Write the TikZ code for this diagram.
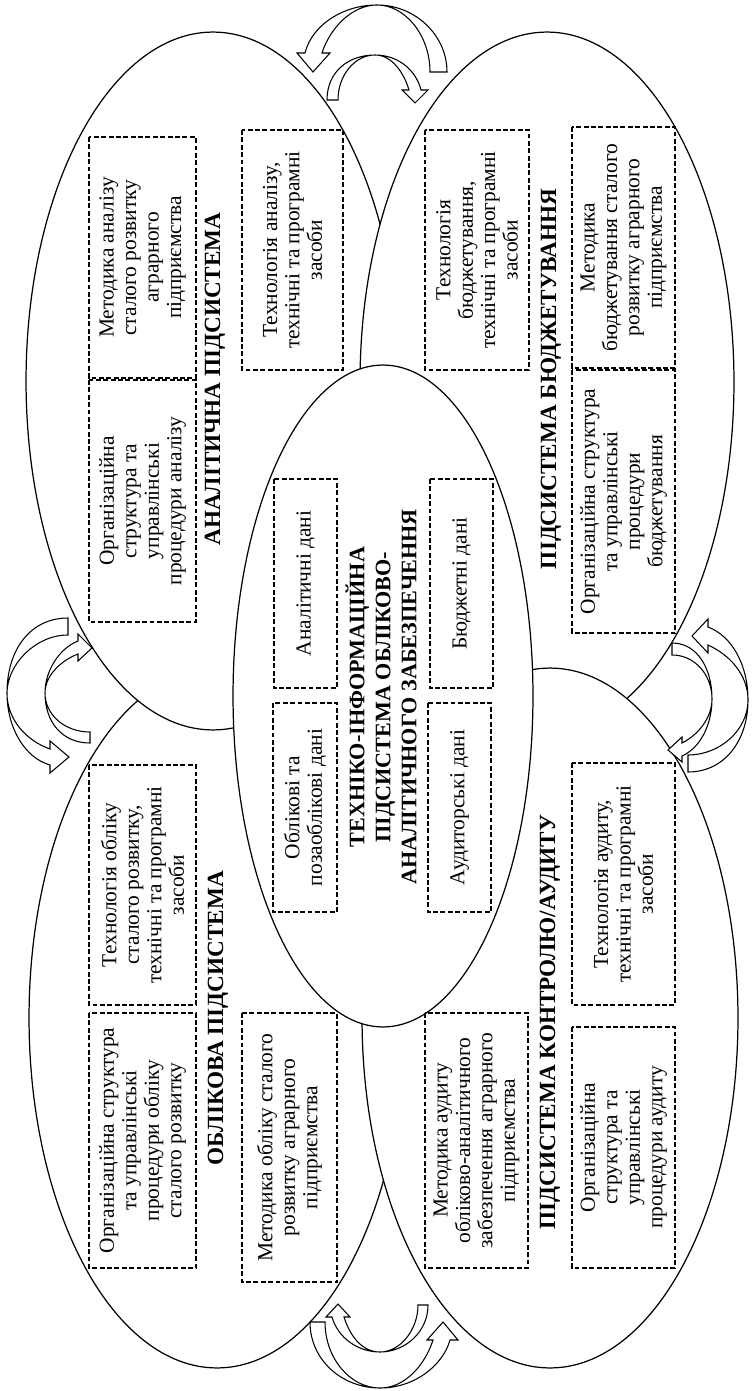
\documentclass[tikz,border=0pt]{standalone}
\usepackage{fontspec}
\setmainfont{Liberation Serif}
\usetikzlibrary{shapes.geometric}
\tikzset{
  ell/.style={draw, ellipse, line width=0.7pt, fill=white, inner sep=0pt},
  dbox/.style={draw, dash pattern=on 2.8pt off 1.4pt, line width=0.8pt, rotate=90, inner sep=0pt, align=center, font=\fontsize{12.2}{12.8}\selectfont},
  ttl/.style={rotate=90, align=center, inner sep=0pt, font=\fontsize{13.2}{14.8}\selectfont\bfseries},
  cttl/.style={rotate=90, align=center, inner sep=0pt, font=\fontsize{12.6}{14.8}\selectfont\bfseries},
  carrow/.style={draw, line width=0.6pt, fill=white, line join=miter},
}
\newcommand{\dbx}[6]{%
  \pgfmathsetmacro{\bw}{(#5-#4)*0.02}%
  \pgfmathsetmacro{\bh}{(#3-#2)*0.02}%
  \node[dbox, minimum width=\bw cm, minimum height=\bh cm] (#1) at ({(#2+#3)/2},{(#4+#5)/2}) {#6};}
\begin{document}
\begin{tikzpicture}[x=0.02cm, y=-0.02cm]
\useasboundingbox (0,0) rectangle (753,1391);
% ellipses (drawing order matters for overlaps)
\node[ell, minimum width=7.52cm, minimum height=14.0cm] (acc) at (217,1018) {};
\node[ell, minimum width=7.48cm, minimum height=13.96cm] (ana) at (213,381) {};
\node[ell, minimum width=7.48cm, minimum height=14.0cm] (bud) at (547,382) {};
\node[ell, minimum width=7.52cm, minimum height=14.0cm] (aud) at (550,1018) {};
\node[ell, minimum width=6.0cm, minimum height=13.24cm] (cen) at (383,696) {};
% titles
\node[ttl] (tana) at (215,379) {АНАЛІТИЧНА ПІДСИСТЕМА};
\node[ttl] (tbud) at (551,379) {ПІДСИСТЕМА БЮДЖЕТУВАННЯ};
\node[ttl] (tacc) at (218,1018) {ОБЛІКОВА ПІДСИСТЕМА};
\node[ttl] (taud) at (550,1022) {ПІДСИСТЕМА КОНТРОЛЮ/АУДИТУ};
\node[cttl] (tcen) at (381,697) {ТЕХНІКО-ІНФОРМАЦІЙНА\\ПІДСИСТЕМА ОБЛІКОВО-\\АНАЛІТИЧНОГО ЗАБЕЗПЕЧЕННЯ};
% boxes: name, x1, x2, y1, y2, text
\dbx{a1}{89}{196}{137}{378}{Методика аналізу\\сталого розвитку\\аграрного\\підприємства}
\dbx{a2}{89}{196}{380}{622}{Організаційна\\структура та\\управлінські\\процедури аналізу}
\dbx{a3}{242}{343}{130}{370}{Технологія аналізу,\\технічні та програмні\\засоби}
\dbx{b1}{425}{529}{130}{370}{Технологія\\бюджетування,\\технічні та програмні\\засоби}
\dbx{b2}{572}{675}{127}{368}{Методика\\бюджетування сталого\\розвитку аграрного\\підприємства}
\dbx{b3}{572}{675}{370}{633}{Організаційна структура\\та управлінські\\процедури\\бюджетування}
\dbx{c1}{89}{196}{765}{1005}{Технологія обліку\\сталого розвитку,\\технічні та програмні\\засоби}
\dbx{c2}{89}{196}{1013}{1268}{Організаційна структура\\та управлінські\\процедури обліку\\сталого розвитку}
\dbx{c3}{242}{337}{1013}{1282}{Методика обліку сталого\\розвитку аграрного\\підприємства}
\dbx{d1}{572}{675}{763}{1005}{Технологія аудиту,\\технічні та програмні\\засоби}
\dbx{d2}{425}{528}{1013}{1268}{Методика аудиту\\обліково-аналітичного\\забезпечення аграрного\\підприємства}
\dbx{d3}{572}{675}{1027}{1268}{Організаційна\\структура та\\управлінські\\процедури аудиту}
\dbx{e1}{274}{337}{479}{688}{Аналітичні дані}
\dbx{e2}{430}{493}{479}{688}{Бюджетні дані}
\dbx{e3}{273}{337}{703}{912}{Облікові та\\позаоблікові дані}
\dbx{e4}{428}{491}{703}{912}{Аудиторські дані}
% curved block arrows
% top outer
\draw[carrow] (447,72) .. controls (447,35) and (415,5) .. (377,5) .. controls (343,5) and (312,25) .. (305,53) -- (297,53) -- (313,72) -- (330,53) -- (322,53) .. controls (330,28) and (352,5) .. (377,5) .. controls (405,5) and (430,35) .. (430,72) -- cycle;
% top inner
\draw[carrow] (327,100) .. controls (327,72) and (348,55) .. (375,55) .. controls (398,55) and (416,70) .. (421,90) -- (428,90) -- (415,103) -- (402,90) -- (409,90) .. controls (404,73) and (392,55) .. (375,55) .. controls (355,55) and (338,75) .. (338,100) -- cycle;
% bottom outer
\draw[carrow] (310,1322) .. controls (310,1360) and (342,1388) .. (380,1388) .. controls (415,1388) and (443,1365) .. (450,1340) -- (458,1340) -- (443,1322) -- (427,1340) -- (433,1340) .. controls (425,1365) and (405,1388) .. (380,1388) .. controls (350,1388) and (325,1358) .. (325,1322) -- cycle;
% bottom inner
\draw[carrow] (428,1305) .. controls (428,1332) and (405,1352) .. (380,1352) .. controls (358,1352) and (338,1338) .. (332,1317) -- (326,1317) -- (338,1304) -- (350,1317) -- (344,1317) .. controls (350,1336) and (362,1352) .. (380,1352) .. controls (400,1352) and (418,1330) .. (418,1305) -- cycle;
% left outer
\draw[carrow] (68,618) .. controls (30,618) and (7,650) .. (7,693) .. controls (7,728) and (25,758) .. (50,765) -- (50,773) -- (69,757) -- (50,741) -- (50,749) .. controls (27,741) and (7,720) .. (7,693) .. controls (7,665) and (35,635) .. (68,635) -- cycle;
% left inner
\draw[carrow] (90,743) .. controls (62,743) and (45,722) .. (45,693) .. controls (45,670) and (60,648) .. (78,641) -- (78,634) -- (92,648) -- (78,661) -- (78,654) .. controls (62,660) and (45,675) .. (45,693) .. controls (45,715) and (65,732) .. (90,732) -- cycle;
% right inner
\draw[carrow] (672,643) .. controls (697,643) and (712,668) .. (712,699) .. controls (712,725) and (700,748) .. (682,756) -- (682,762) -- (668,750) -- (682,737) -- (682,743) .. controls (698,735) and (712,718) .. (712,699) .. controls (712,675) and (695,655) .. (672,655) -- cycle;
% right outer
\draw[carrow] (688,772) .. controls (725,772) and (748,740) .. (748,700) .. controls (748,665) and (732,636) .. (708,627) -- (708,619) -- (692,636) -- (708,653) -- (708,645) .. controls (730,655) and (748,675) .. (748,700) .. controls (748,730) and (720,755) .. (688,755) -- cycle;
\end{tikzpicture}
\end{document}
